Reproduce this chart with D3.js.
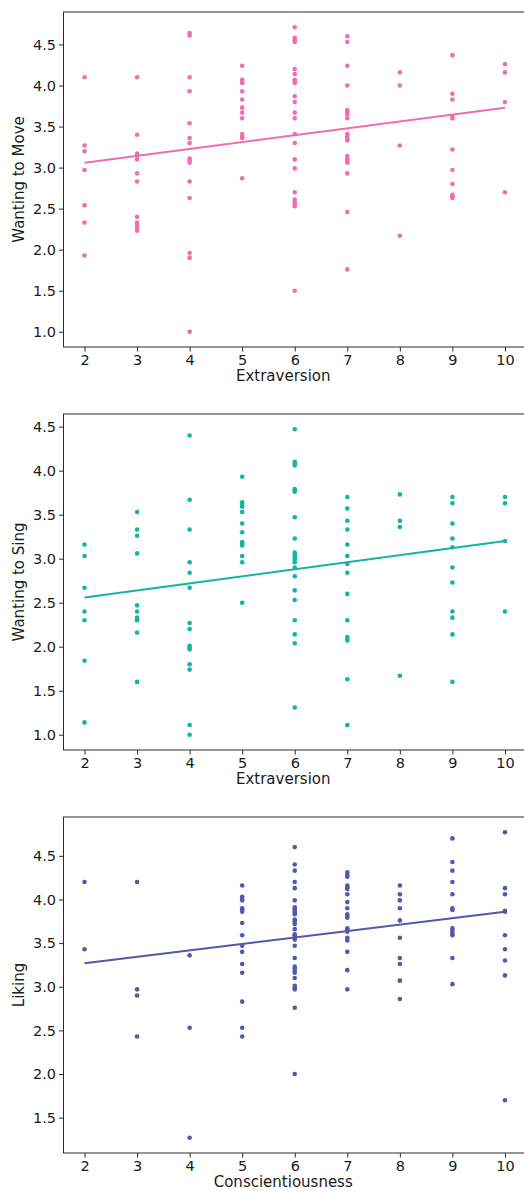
<!DOCTYPE html>
<html>
<head>
<meta charset="utf-8">
<script src="https://cdn.jsdelivr.net/npm/d3@7"></script>
<style>
  html, body { margin: 0; padding: 0; background: #fff; }
  svg { display: block; }
  text { font-family: "DejaVu Sans", sans-serif; fill: #1a1a1a; }
</style>
</head>
<body>
<svg id="chart" width="524" height="1191"></svg>
<script>
// Personality score (x) paired with each participant's rating (y), grouped by score.
const extraversionLevels = [2, 3, 4, 5, 6, 7, 8, 9, 10];
const conscientiousnessLevels = [2, 3, 4, 5, 6, 7, 8, 9, 10];

const movingRatings = [
  [4.10, 3.27, 3.20, 2.97, 2.54, 2.33, 1.93],
  [4.10, 3.40, 3.17, 3.14, 3.10, 2.93, 2.83, 2.40, 2.33, 2.30, 2.27, 2.23],
  [4.64, 4.61, 4.10, 3.93, 3.54, 3.36, 3.30, 3.11, 3.09, 3.06, 2.83, 2.63, 1.96, 1.90, 1.00],
  [4.24, 4.07, 4.05, 4.03, 3.93, 3.83, 3.73, 3.67, 3.60, 3.41, 3.38, 3.36, 2.87],
  [4.71, 4.58, 4.55, 4.53, 4.20, 4.14, 4.07, 4.05, 4.03, 3.87, 3.80, 3.67, 3.60, 3.41, 3.30, 3.10, 2.99, 2.70, 2.61, 2.58, 2.55, 2.53, 1.50],
  [4.60, 4.53, 4.24, 4.00, 3.70, 3.68, 3.65, 3.60, 3.41, 3.38, 3.35, 3.33, 3.14, 3.11, 3.09, 3.06, 2.93, 2.46, 1.76],
  [4.16, 4.00, 3.27, 2.17],
  [4.37, 3.90, 3.83, 3.62, 3.60, 3.22, 2.97, 2.80, 2.67, 2.65, 2.63],
  [4.26, 4.16, 3.80, 2.70]
];

const singingRatings = [
  [3.16, 3.03, 2.67, 2.40, 2.30, 1.84, 1.14],
  [3.53, 3.33, 3.26, 3.06, 2.47, 2.40, 2.33, 2.31, 2.30, 2.16, 1.60],
  [4.40, 3.67, 3.33, 2.96, 2.84, 2.67, 2.27, 2.20, 2.01, 1.99, 1.97, 1.80, 1.74, 1.11, 1.00],
  [3.93, 3.64, 3.61, 3.59, 3.53, 3.40, 3.30, 3.19, 3.17, 3.15, 3.03, 2.96, 2.50],
  [4.47, 4.10, 4.08, 4.06, 3.79, 3.78, 3.76, 3.47, 3.23, 3.07, 3.04, 3.02, 2.99, 2.96, 2.90, 2.80, 2.64, 2.53, 2.30, 2.14, 2.04, 1.31],
  [3.70, 3.57, 3.43, 3.33, 3.16, 3.03, 2.94, 2.84, 2.60, 2.30, 2.11, 2.09, 2.07, 1.63, 1.11],
  [3.73, 3.43, 3.36, 1.67],
  [3.70, 3.63, 3.40, 3.23, 3.13, 2.90, 2.73, 2.40, 2.33, 2.14, 1.60],
  [3.70, 3.63, 3.20, 2.40]
];

const likingRatings = [
  [4.20, 3.43],
  [4.20, 2.97, 2.90, 2.43],
  [3.36, 2.53, 1.27],
  [4.16, 4.03, 4.01, 3.99, 3.90, 3.88, 3.86, 3.73, 3.59, 3.47, 3.40, 3.26, 3.16, 2.83, 2.53, 2.43],
  [4.60, 4.40, 4.33, 4.20, 4.13, 3.99, 3.91, 3.89, 3.87, 3.85, 3.83, 3.77, 3.75, 3.72, 3.66, 3.60, 3.59, 3.56, 3.54, 3.47, 3.33, 3.23, 3.21, 3.18, 3.16, 3.10, 3.01, 2.99, 2.97, 2.76, 2.00],
  [4.31, 4.28, 4.26, 4.16, 4.14, 4.12, 4.06, 3.97, 3.90, 3.83, 3.81, 3.79, 3.67, 3.65, 3.63, 3.56, 3.53, 3.40, 3.19, 2.97],
  [4.16, 4.06, 3.99, 3.90, 3.76, 3.56, 3.33, 3.26, 3.07, 2.86],
  [4.70, 4.43, 4.33, 4.20, 4.06, 3.90, 3.88, 3.67, 3.64, 3.61, 3.59, 3.33, 3.03],
  [4.77, 4.13, 4.06, 3.87, 3.86, 3.59, 3.43, 3.30, 3.13, 1.70]
];

// Fitted trend value at the lowest and highest score (x = 2 and x = 10).
const movingTrend = [3.06, 3.73];
const singingTrend = [2.56, 3.20];
const likingTrend = [3.27, 3.86];

const xTicks = [2, 3, 4, 5, 6, 7, 8, 9, 10];
const yTicksMove = [1.0, 1.5, 2.0, 2.5, 3.0, 3.5, 4.0, 4.5];
const yTicksSing = [1.0, 1.5, 2.0, 2.5, 3.0, 3.5, 4.0, 4.5];
const yTicksLiking = [1.5, 2.0, 2.5, 3.0, 3.5, 4.0, 4.5];

const panels = [
  { levels: extraversionLevels, ratings: movingRatings, trend: movingTrend, yTicks: yTicksMove,
    xLabel: "Extraversion", yLabel: "Wanting to Move", color: "#ef6eae", top: 12, bottom: 347 },
  { levels: extraversionLevels, ratings: singingRatings, trend: singingTrend, yTicks: yTicksSing,
    xLabel: "Extraversion", yLabel: "Wanting to Sing", color: "#14b3a5", top: 414, bottom: 750 },
  { levels: conscientiousnessLevels, ratings: likingRatings, trend: likingTrend, yTicks: yTicksLiking,
    xLabel: "Conscientiousness", yLabel: "Liking", color: "#5656ad", top: 817, bottom: 1153 }
];

const svg = d3.select("#chart");
svg.append("rect").attr("width", 524).attr("height", 1191).attr("fill", "#fff");

const left = 63.5, right = 526;

panels.forEach(p => {
  const points = [];
  p.levels.forEach((lv, i) => p.ratings[i].forEach(v => points.push({ x: lv, y: v })));

  // data extent with a 5% margin on each side
  const xExt = d3.extent(points, d => d.x), yExt = d3.extent(points, d => d.y);
  const xPad = (xExt[1] - xExt[0]) * 0.05, yPad = (yExt[1] - yExt[0]) * 0.05;
  const x = d3.scaleLinear().domain([xExt[0] - xPad, xExt[1] + xPad]).range([left, right]);
  const y = d3.scaleLinear().domain([yExt[0] - yPad, yExt[1] + yPad]).range([p.bottom, p.top]);

  const g = svg.append("g");

  // scatter
  g.append("g").selectAll("circle").data(points).join("circle")
    .attr("cx", d => x(d.x)).attr("cy", d => y(d.y)).attr("r", 2.3)
    .attr("fill", p.color);

  // trend line across the observed score range
  const trendPts = [[xExt[0], p.trend[0]], [xExt[1], p.trend[1]]];
  g.append("path")
    .datum(trendPts)
    .attr("d", d3.line().x(d => x(d[0])).y(d => y(d[1])))
    .attr("fill", "none").attr("stroke", p.color).attr("stroke-width", 2);

  // frame
  g.append("rect")
    .attr("x", left).attr("y", p.top)
    .attr("width", right - left).attr("height", p.bottom - p.top)
    .attr("fill", "none").attr("stroke", "#2b2b2b").attr("stroke-width", 1);

  // axes
  const xAxis = g.append("g").attr("transform", `translate(0,${p.bottom})`)
    .call(d3.axisBottom(x).tickValues(xTicks).tickFormat(d3.format("d")).tickSize(4.5).tickPadding(3));
  const yAxis = g.append("g").attr("transform", `translate(${left},0)`)
    .call(d3.axisLeft(y).tickValues(p.yTicks).tickFormat(d3.format(".1f")).tickSize(4.5).tickPadding(3));
  [xAxis, yAxis].forEach(a => {
    a.select(".domain").remove();
    a.selectAll(".tick line").attr("stroke", "#2b2b2b");
    a.selectAll(".tick text").style("font-family", "DejaVu Sans").style("font-size", "14.5px").attr("fill", "#1a1a1a");
  });

  // axis titles
  g.append("text")
    .attr("x", (left + 505) / 2 - 1).attr("y", p.bottom + 34)
    .attr("text-anchor", "middle").style("font-size", "15px")
    .text(p.xLabel);
  g.append("text")
    .attr("transform", `translate(24,${(p.top + p.bottom) / 2}) rotate(-90)`)
    .attr("text-anchor", "middle").style("font-size", "15px")
    .text(p.yLabel);
});
</script>
</body>
</html>
